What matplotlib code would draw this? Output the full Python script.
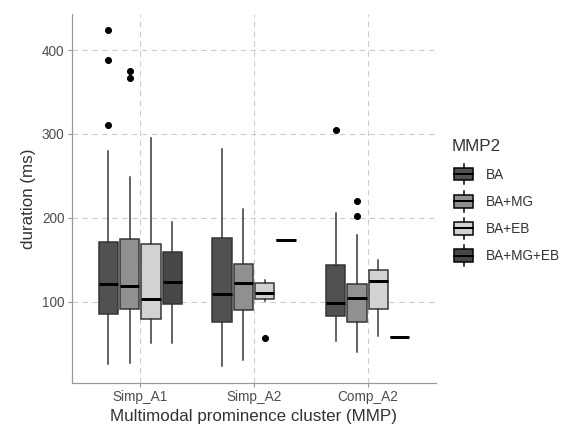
import matplotlib
matplotlib.use("Agg")
import matplotlib.pyplot as plt
from matplotlib.patches import Rectangle, Patch
from matplotlib.lines import Line2D
from matplotlib.legend_handler import HandlerBase

plt.rcParams['font.family'] = ['Liberation Sans', 'DejaVu Sans']

clusters = ['Simp_A1', 'Simp_A2', 'Comp_A2']
groups = ['BA', 'BA+MG', 'BA+EB', 'BA+MG+EB']
fills = ['#515151', '#909090', '#d2d2d2', '#474747']

# box stats per cluster, per group: (whislo, q1, med, q3, whishi, fliers)
stats = {
    'Simp_A1': [
        (25.6, 84.9, 120.6, 170.8, 280.2, [423.8, 387.6, 310.8]),
        (26.5, 91.6, 118.7, 174.8, 249.0, [374.8, 366.1]),
        (50.7, 78.8, 103.6, 169.0, 295.0, []),
        (50.7, 97.6, 123.4, 159.0, 195.5, []),
    ],
    'Simp_A2': [
        (22.8, 75.3, 109.2, 176.3, 282.0, []),
        (30.0, 89.6, 122.3, 144.9, 210.5, []),
        (101.0, 103.1, 110.3, 121.8, 126.0, [56.2]),
        (174.0, 174.0, 174.0, 174.0, 174.0, []),
    ],
    'Comp_A2': [
        (53.5, 82.5, 98.8, 143.7, 205.7, [305.0]),
        (40.0, 76.1, 103.9, 121.1, 179.5, [219.5, 201.6]),
        (58.6, 91.6, 124.7, 137.3, 149.7, []),
        (57.9, 57.9, 57.9, 57.9, 57.9, []),
    ],
}

yticks = [100, 200, 300, 400]

fig = plt.figure(figsize=(8, 428 / 72), dpi=72)
ax = fig.add_axes([72 / 576, 1 - 383 / 428, (436 - 72) / 576, (383 - 14) / 428])

slot = 0.75 / len(groups)
edge = '#333333'
for ci, cl in enumerate(clusters):
    for gi, g in enumerate(groups):
        lo, q1, med, q3, hi, fl = stats[cl][gi]
        pos = ci + 1 + (gi - 1.5) * slot
        ax.bxp([dict(whislo=lo, q1=q1, med=med, q3=q3, whishi=hi, fliers=fl)],
               positions=[pos], widths=slot * 0.9, patch_artist=True, showcaps=False,
               boxprops=dict(facecolor=fills[gi], edgecolor=edge, linewidth=1.5),
               whiskerprops=dict(color=edge, linewidth=1.5),
               medianprops=dict(color='black', linewidth=3, solid_capstyle='butt'),
               flierprops=dict(marker='o', markerfacecolor='black', markeredgecolor='black',
                               markersize=6),
               zorder=3)

ax.set_xlim(0.4, 3.6)
ax.set_ylim(3, 443)
ax.set_xticks([1, 2, 3])
ax.set_xticklabels(clusters)
ax.set_yticks(yticks)
ax.grid(True, color='#cccccc', linestyle=(0, (5, 4)), linewidth=1.1, zorder=0)
ax.set_axisbelow(True)
for s in ['top', 'right']:
    ax.spines[s].set_visible(False)
for s in ['left', 'bottom']:
    ax.spines[s].set_color('#999999')
    ax.spines[s].set_linewidth(1.2)
ax.tick_params(colors='#999999', labelcolor='#4d4d4d', labelsize=13.6, length=4, width=1.1)
ax.set_xlabel('Multimodal prominence cluster (MMP)', fontsize=17, color='#333333', labelpad=4)
ax.set_ylabel('duration (ms)', fontsize=17, color='#333333', labelpad=6)


class BoxHandler(HandlerBase):
    def create_artists(self, legend, orig_handle, xdescent, ydescent, width, height,
                       fontsize, trans):
        x0 = -xdescent + 3
        y0 = -ydescent
        cx = x0 + width / 2
        bh = height * 1.05
        by = y0 + (height - bh) / 2
        whisk_top = Line2D([cx, cx], [by + bh, by + bh + 4], color='black', lw=1.5, transform=trans)
        whisk_bot = Line2D([cx, cx], [by - 4, by], color='black', lw=1.5, transform=trans)
        box = Rectangle((x0, by), width, bh, facecolor=orig_handle.get_facecolor(),
                        edgecolor='black', lw=1.5, transform=trans)
        med = Line2D([x0, x0 + width], [by + bh / 2] * 2, color='black', lw=2, transform=trans)
        return [whisk_top, whisk_bot, box, med]


handles = [Patch(facecolor=c) for c in fills]
leg = fig.legend(handles, groups, handler_map={Patch: BoxHandler()},
                 loc='upper left', bbox_to_anchor=(446 / 576, 1 - 134 / 428),
                 frameon=False, title='MMP2', fontsize=13.6, title_fontsize=17,
                 handlelength=1.35, handleheight=1.0, handletextpad=1.2,
                 labelspacing=0.97, alignment='left', borderaxespad=0)
for t in leg.get_texts():
    t.set_color('#333333')
leg.get_title().set_color('#333333')

fig.savefig('out.png', dpi=72)
